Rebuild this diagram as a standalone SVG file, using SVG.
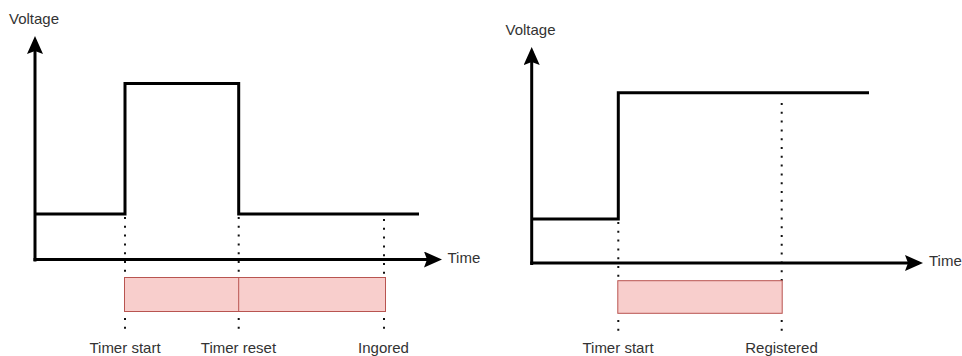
<svg xmlns="http://www.w3.org/2000/svg" width="962" height="356" viewBox="0 0 962 356">
<style>
.ax{fill:none;stroke:#000;stroke-width:3;marker-end:url(#arr)}
.sig{fill:none;stroke:#000;stroke-width:3;stroke-linejoin:miter}
.dot{fill:none;stroke:#111;stroke-width:2;stroke-dasharray:2 6.8}
.win{fill:#f8cecc;stroke:#b85450;stroke-width:1}
.lbl{font-family:"Liberation Sans",Arial,sans-serif;font-size:15px;fill:#333}
.mid{text-anchor:middle}
</style>
<defs>
<marker id="arr" markerUnits="userSpaceOnUse" markerWidth="18" markerHeight="16" viewBox="0 0 18 16" refX="14" refY="8" orient="auto">
<path d="M0,0 L18,8 L0,16 L3,8 Z" fill="#000"/>
</marker>
</defs>
<rect width="962" height="356" fill="#fff"/>
<g id="left-chart">
<g id="left-dotted">
<path class="dot" d="M125,217 V278 M125,318 V332"/>
<path class="dot" d="M238.7,217 V278 M238.7,318 V332"/>
<path class="dot" d="M384,219 V278 M384,318 V332"/>
</g>
<g id="left-window">
<rect class="win" x="124.5" y="277.5" width="261" height="34"/>
<line x1="238.7" y1="277.5" x2="238.7" y2="311.5" stroke="#b85450" stroke-width="1"/>
</g>
<g id="left-axes">
<line class="ax" x1="35" y1="261.5" x2="35" y2="40"/>
<line class="ax" x1="33.5" y1="259.5" x2="438" y2="259.5"/>
</g>
<polyline id="left-signal" class="sig" points="35,214 125,214 125,83.5 238.7,83.5 238.7,214 419,214"/>
<text class="lbl" x="9" y="24">Voltage</text>
<text class="lbl" x="447.5" y="263">Time</text>
<text class="lbl mid" x="125" y="353">Timer start</text>
<text class="lbl mid" x="238.5" y="353">Timer reset</text>
<text class="lbl mid" x="383.5" y="353">Ingored</text>
</g>
<g id="right-chart">
<g id="right-dotted">
<path class="dot" d="M618.3,222 V281 M618.3,320 V332"/>
<path class="dot" d="M781.7,103 V281 M781.7,320 V332"/>
</g>
<rect id="right-window" class="win" x="617.8" y="280.7" width="164.4" height="32.6"/>
<g id="right-axes">
<line class="ax" x1="531.7" y1="265" x2="531.7" y2="51"/>
<line class="ax" x1="530.2" y1="263" x2="919" y2="263"/>
</g>
<polyline id="right-signal" class="sig" points="531.7,219 618.3,219 618.3,92.7 869,92.7"/>
<text class="lbl" x="505.5" y="35">Voltage</text>
<text class="lbl" x="929" y="266">Time</text>
<text class="lbl mid" x="618" y="353">Timer start</text>
<text class="lbl mid" x="781.5" y="353">Registered</text>
</g>
</svg>
